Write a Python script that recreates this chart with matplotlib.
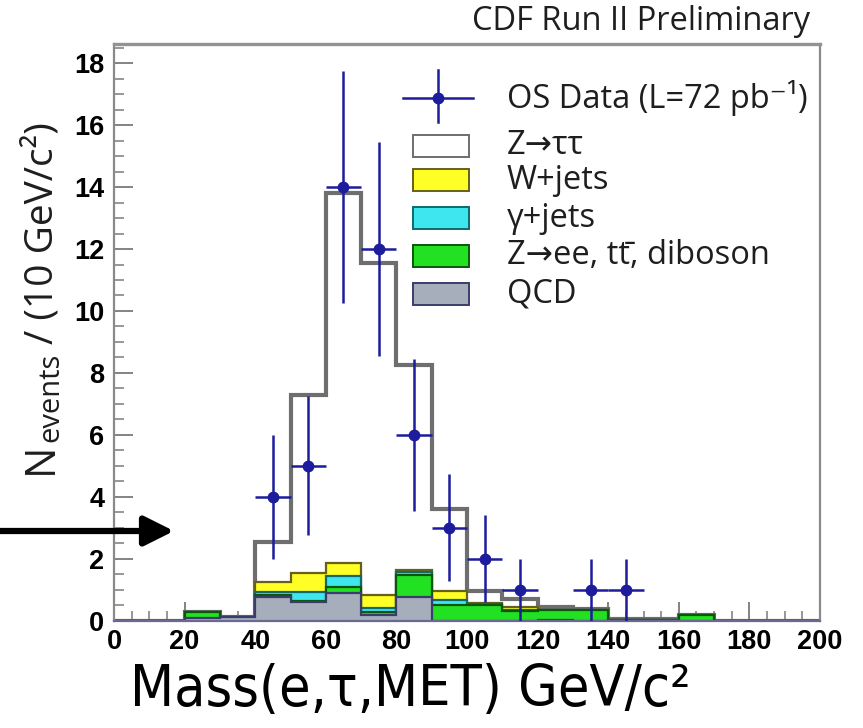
import numpy as np
import matplotlib
matplotlib.use("Agg")
import matplotlib.pyplot as plt
from matplotlib.patches import Rectangle
from matplotlib.lines import Line2D

# 10 GeV/c^2 bins from 0 to 200
edges = np.arange(0, 201, 10)

# Expected contributions per bin (stacked bottom to top)
qcd     = [0, 0, 0.10, 0.13, 0.77, 0.60, 0.90, 0.18, 0.77, 0.00,
           0.00, 0.00, 0.03, 0.00, 0.02, 0.02, 0.00, 0, 0, 0]
zee     = [0, 0, 0.17, 0.00, 0.05, 0.04, 0.20, 0.11, 0.72, 0.50,
           0.50, 0.30, 0.33, 0.35, 0.00, 0.00, 0.20, 0, 0, 0]
gjets   = [0, 0, 0, 0, 0.12, 0.30, 0.35, 0.11, 0.08, 0.18,
           0.03, 0.05, 0, 0, 0, 0, 0, 0, 0, 0]
wjets   = [0, 0, 0, 0, 0.32, 0.61, 0.42, 0.43, 0.08, 0.27,
           0.03, 0.10, 0, 0, 0, 0, 0, 0, 0, 0]
ztautau = [0, 0, 0, 0, 1.29, 5.74, 11.93, 10.73, 6.61, 2.65,
           0.39, 0.24, 0.07, 0.02, 0.02, 0.02, 0, 0, 0, 0]

# Opposite-sign data
data_x   = [45, 55, 65, 75, 85, 95, 105, 115, 135, 145]
data_y   = [4, 5, 14, 12, 6, 3, 2, 1, 1, 1]
data_err = [2.0, 2.24, 3.74, 3.46, 2.45, 1.73, 1.41, 1.0, 1.0, 1.0]
half_bin = 5

layers = [
    ("QCD",                      qcd,     "#a6aebb", "#3c3c6c"),
    ("Z\u2192ee, tt\u0304, diboson", zee, "#22e022", "#0b560b"),
    ("\u03b3+jets",              gjets,   "#3ee6f0", "#0c6a70"),
    ("W+jets",                   wjets,   "#ffff26", "#66601a"),
    ("Z\u2192\u03c4\u03c4",      ztautau, "#ffffff", "#6e6e6e"),
]

W, H = 863, 728
fig = plt.figure(figsize=(W / 100, H / 100), dpi=100)
ax = fig.add_axes([114 / W, 1 - 620.7 / H, 706 / W, 576.7 / H])

# cumulative stack, drawn from the top layer down
cums = np.cumsum([np.asarray(l[1], float) for l in layers], axis=0)
for i in range(len(layers) - 1, -1, -1):
    name, _, fc, ec = layers[i]
    lw = 3.0 if i == len(layers) - 1 else 1.6
    ax.stairs(cums[i], edges, baseline=0, fill=True, color=fc, zorder=2 + (4 - i) * 0.1)
    ax.stairs(cums[i], edges, baseline=0, fill=False, color=ec, lw=lw,
              zorder=2.05 + (4 - i) * 0.1)

dcol = "#1c1c9c"
ax.errorbar(data_x, data_y, yerr=data_err, xerr=half_bin, fmt="o", color=dcol,
            ms=7.5, lw=1.8, capsize=0, zorder=10)

ax.set_xlim(0, 200)
ax.set_ylim(0, 18.62)
ax.set_xticks(np.arange(0, 201, 20))
ax.set_xticks(np.arange(0, 201, 5), minor=True)
ax.set_yticks(np.arange(0, 19, 2))
ax.set_yticks(np.arange(0, 18.6, 0.5), minor=True)
ax.tick_params(which="both", direction="in", color="#7a7a7a", top=False, right=False)
ax.tick_params(which="major", length=14, width=1.3)
ax.tick_params(which="minor", length=7, width=1.1)
ax.tick_params(axis="y", pad=7)
ax.tick_params(axis="x", pad=6)
for lab in ax.get_xticklabels() + ax.get_yticklabels():
    lab.set_fontfamily("Liberation Sans")
    lab.set_fontweight("bold")
    lab.set_fontsize(19.5)
for s in ("left", "right"):
    ax.spines[s].set_color("#8a8a8a")
    ax.spines[s].set_linewidth(1.6)
ax.spines["top"].set_color("#939393")
ax.spines["top"].set_linewidth(2.4)
ax.spines["bottom"].set_color("#6a6a90")
ax.spines["bottom"].set_linewidth(1.6)

# legend
root_font = ["Open Sans", "DejaVu Sans"]
fs_root = 23.5
def ax_x(px):
    return (px - 114) / 706.0
def ax_y(py):
    return (620.7 - py) / 576.7

tx = ax_x(507)
ax.add_line(Line2D([ax_x(402.7), ax_x(473.3)], [ax_y(97.7)] * 2, color=dcol, lw=1.8,
                   transform=ax.transAxes, clip_on=False))
ax.add_line(Line2D([ax_x(438.3)] * 2, [ax_y(70), ax_y(121.7)], color=dcol, lw=1.8,
                   transform=ax.transAxes, clip_on=False))
ax.add_line(Line2D([ax_x(438.3)], [ax_y(97.7)], marker="o", ms=7.5, color=dcol,
                   transform=ax.transAxes, clip_on=False))
ax.text(tx, ax_y(97.5), "OS Data (L=72 pb\u207b\u00b9)", transform=ax.transAxes,
        ha="left", va="center", fontsize=fs_root, family=root_font, color="#1e1e1e")

rows_y = [145.7, 180.3, 218.3, 255.7, 294.0]
for (name, _, fc, ec), py in zip(layers[::-1], rows_y):
    ax.add_patch(Rectangle((ax_x(413), ax_y(py + 11)), 56 / 706, 22 / 576.7,
                           transform=ax.transAxes, facecolor=fc, edgecolor=ec,
                           lw=1.4, clip_on=False, zorder=5))
    ax.text(tx, ax_y(py), name, transform=ax.transAxes, ha="left", va="center",
            fontsize=fs_root, family=root_font, color="#1e1e1e")

fig.text(810 / W, 1 - 22 / H, "CDF Run II Preliminary", ha="right", va="center",
         fontsize=fs_root, family=root_font, color="#1e1e1e")

# axis titles
fig.text(410 / W, 1 - 690 / H, "Mass(e,\u03c4,MET) GeV/c\u00b2", ha="center", va="center",
         fontsize=41, family="DejaVu Sans", fontstretch="condensed", color="black")

# y title: N, subscript "events", then the unit
t1 = fig.text(52 / W, 1 - 474 / H, "N", rotation=90, rotation_mode="anchor",
              ha="left", va="baseline", fontsize=30, family=root_font, color="#1e1e1e")
fig.canvas.draw()
r = fig.canvas.get_renderer()
bb = t1.get_window_extent(r)
t1b = fig.text(58 / W, (bb.y1 + 1) / H, "events", rotation=90, rotation_mode="anchor",
               ha="left", va="baseline", fontsize=21, family=root_font, color="#1e1e1e")
fig.canvas.draw()
bb2 = t1b.get_window_extent(r)
fig.text(52 / W, (bb2.y1 + 8) / H, "/ (10 GeV/c\u00b2)", rotation=90, rotation_mode="anchor",
         ha="left", va="baseline", fontsize=28, family=root_font, color="#1e1e1e")

# pointer arrow
ax.annotate("", xy=(174, H - 531), xytext=(0, H - 531), xycoords="figure pixels",
            textcoords="figure pixels",
            arrowprops=dict(arrowstyle="-|>,head_length=0.9,head_width=0.45",
                            lw=4.5, color="black", shrinkA=0, shrinkB=0,
                            mutation_scale=20))

fig.savefig("out.png", dpi=100)
